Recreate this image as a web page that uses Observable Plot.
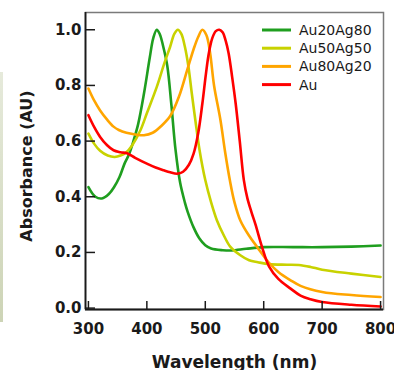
<!DOCTYPE html>
<html><head><meta charset="utf-8">
<script src="https://cdn.jsdelivr.net/npm/d3@7"></script>
<script src="https://cdn.jsdelivr.net/npm/@observablehq/plot@0.6"></script>
<style>
body{margin:0;background:#fff;}
#wrap{position:relative;width:394px;height:370px;overflow:hidden;}
#strip{position:absolute;left:0;top:72px;width:3px;height:250px;background:linear-gradient(#e6eadb,#cdd4b6);}
</style></head><body><div id="wrap"><div id="strip"></div></div>
<script>
const series = ["Au20Ag80","Au50Ag50","Au80Ag20","Au"];
const colors = ["#1f9e1f","#c8d200","#ffa500","#ff0000"];

const wlGreen  = [300,312,323,335,344,353,362,369,377,385,395,405,411,417,422,428,435,442,449,457,465,470,480,490,500,510,530,545,570,600,650,700,750,800];
const absGreen = [0.435,0.40,0.394,0.41,0.435,0.47,0.52,0.55,0.60,0.66,0.77,0.90,0.97,1.0,0.985,0.94,0.87,0.73,0.57,0.45,0.38,0.345,0.29,0.25,0.226,0.214,0.208,0.207,0.213,0.219,0.219,0.219,0.221,0.225];

const wlYellow  = [300,310,320,333,345,355,365,375,389,400,417,430,440,447,453,459,465,471,477,483,490,500,510,520,532,543,560,575,590,609,640,660,680,700,750,800];
const absYellow = [0.627,0.59,0.565,0.548,0.543,0.548,0.56,0.585,0.639,0.70,0.795,0.88,0.94,0.985,1.0,0.985,0.94,0.87,0.77,0.675,0.57,0.46,0.38,0.315,0.26,0.22,0.19,0.172,0.165,0.158,0.156,0.155,0.148,0.138,0.124,0.112];

const wlOrange  = [300,310,320,332,343,352,365,380,395,410,425,440,455,469,480,488,495,502,508,515,526,534,542,550,560,575,589,609,625,646,663,700,750,800];
const absOrange = [0.789,0.745,0.71,0.677,0.652,0.64,0.63,0.624,0.621,0.63,0.655,0.69,0.76,0.855,0.93,0.975,1.0,0.98,0.92,0.80,0.675,0.56,0.46,0.38,0.315,0.26,0.219,0.163,0.13,0.10,0.08,0.058,0.047,0.04];

const wlRed  = [300,310,320,332,343,355,366,380,400,415,429,440,452,462,472,480,488,495,501,506,512,518,524,530,535,540,546,552,559,566,572,579,586,597,609,625,646,663,680,700,750,800];
const absRed = [0.693,0.65,0.615,0.585,0.567,0.56,0.556,0.54,0.519,0.505,0.495,0.488,0.483,0.49,0.515,0.555,0.63,0.735,0.84,0.915,0.97,0.995,1.0,0.99,0.96,0.915,0.83,0.735,0.60,0.46,0.395,0.345,0.30,0.22,0.15,0.105,0.07,0.045,0.032,0.022,0.012,0.006];

const xTicks = [300,400,500,600,700,800];
const yTicks = [0,0.2,0.4,0.6,0.8,1.0];
const xLabel = "Wavelength (nm)";
const yLabel = "Absorbance (AU)";
const xDomain = [295,805];
const yDomain = [-0.005,1.062];

const wls = [wlGreen,wlYellow,wlOrange,wlRed];
const abss = [absGreen,absYellow,absOrange,absRed];
const rows = series.flatMap((s,i)=>wls[i].map((w,j)=>({series:s, wl:w, abs:abss[i][j]})));

const font = "DejaVu Sans";
const plot = Plot.plot({
  width:394, height:370,
  marginLeft:85, marginRight:11, marginTop:12, marginBottom:61,
  style:{fontFamily:font, background:"transparent", color:"#1a1a1a"},
  x:{domain:xDomain, label:null},
  y:{domain:yDomain, label:null},
  color:{domain:series, range:colors},
  marks:[
    Plot.frame({stroke:"#7a7a7a", strokeWidth:1.5}),
    Plot.line(rows, {x:"wl", y:"abs", z:"series", stroke:"series", strokeWidth:2.6, curve:"catmull-rom"}),
    Plot.ruleX([xDomain[0]], {stroke:"#1a1a1a", strokeWidth:1.8}),
    Plot.ruleY([yDomain[0]], {stroke:"#1a1a1a", strokeWidth:1.8}),
    Plot.axisX({ticks:xTicks, tickSize:-8, tickPadding:21.5, fontSize:15, fontWeight:"bold", label:null, strokeWidth:1.5}),
    Plot.axisY({ticks:yTicks, tickSize:-10, tickPadding:14, tickFormat:d3.format(".1f"), fontSize:15, fontWeight:"bold", label:null, strokeWidth:1.5}),
    Plot.text([xLabel], {frameAnchor:"bottom", textAnchor:"middle", lineAnchor:"middle", dy:53, text:d=>d, fontSize:17, fontWeight:"bold", fill:"#1a1a1a"}),
    Plot.text([yLabel], {frameAnchor:"left", textAnchor:"middle", lineAnchor:"middle", dx:-59, dy:5, rotate:-90, text:d=>d, fontSize:16, fontWeight:"bold", fill:"#1a1a1a"})
  ]
});
document.getElementById("wrap").appendChild(plot);

// legend
const svg = d3.select(plot);
const lg = svg.append("g").attr("font-family", font).attr("font-size", 14).attr("text-anchor", "start");
series.forEach((s,i)=>{
  const y = 30 + i*18.2;
  lg.append("line").attr("x1",262).attr("x2",291).attr("y1",y).attr("y2",y)
    .attr("stroke",colors[i]).attr("stroke-width",3);
  lg.append("text").attr("x",299).attr("y",y).attr("dy","0.36em").attr("fill","#1a1a1a").text(s);
});
</script>
</body></html>
